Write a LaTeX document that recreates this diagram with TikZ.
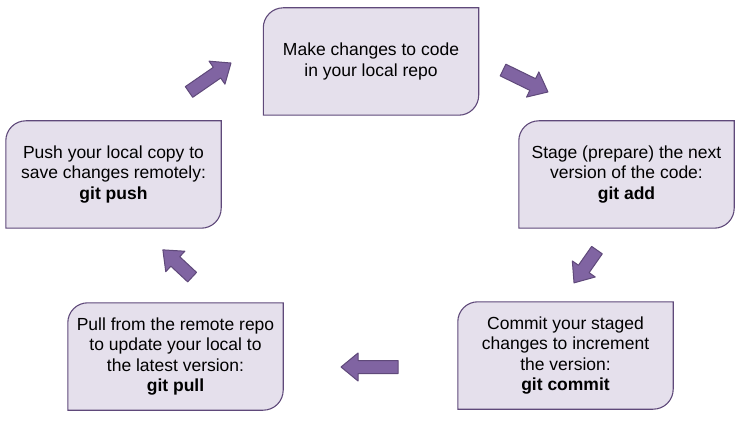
\documentclass[tikz,border=0pt]{standalone}
\usepackage{fontspec}
\setmainfont{Liberation Sans}
\usetikzlibrary{backgrounds}
\definecolor{boxfill}{HTML}{E5E0EC}
\definecolor{boxline}{HTML}{5F497A}
\definecolor{arrfill}{HTML}{8064A2}
\tikzset{
  x=1pt, y=1pt,
  gitnode/.style={minimum width=215pt, minimum height=107pt, inner sep=0pt,
    align=center, font=\fontsize{17.5}{20.5}\selectfont},
  boxshape/.style={fill=boxfill, draw=boxline, line width=1.1pt},
  arrowstyle/.style={fill=arrfill, draw=boxline, line width=1pt, line join=round},
  pics/barrow/.style={code={
    \draw[arrowstyle] ({-#1/2},-6.5) -- ({#1/2-17},-6.5) -- ({#1/2-17},-14) -- ({#1/2},0)
      -- ({#1/2-17},14) -- ({#1/2-17},6.5) -- ({-#1/2},6.5) -- cycle;}}
}
\newcommand\gitbox[4]{%
  \node[gitnode] (#1) at (#2,#3) {#4};
  \begin{pgfonlayer}{background}
    \draw[boxshape] (#1.south west) -- ([yshift=-20pt]#1.north west)
      arc[start angle=180, end angle=90, radius=20pt] -- (#1.north east)
      -- ([yshift=20pt]#1.south east)
      arc[start angle=0, end angle=-90, radius=20pt] -- cycle;
  \end{pgfonlayer}}
\begin{document}
\begin{tikzpicture}
\useasboundingbox (0,0) rectangle (750,429);
\gitbox{make}{371}{367.5}{Make changes to code\\in your local repo}
\gitbox{stage}{626.5}{254.5}{Stage (prepare) the next\\version of the code:\\\textbf{git add}}
\gitbox{commit}{565.5}{73.5}{Commit your staged\\changes to increment\\the version:\\\textbf{git commit}}
\gitbox{pull}{175.5}{72.5}{Pull from the remote repo\\to update your local to\\the latest version:\\\textbf{git pull}}
\gitbox{push}{113.5}{254.5}{Push your local copy to\\save changes remotely:\\\textbf{git push}}
\pic[rotate=-26] at (525.5,348) {barrow=50};
\pic[rotate=235] at (585.5,162.5) {barrow=40};
\pic[rotate=180] at (369.5,62) {barrow=57};
\pic[rotate=137] at (177.5,165.5) {barrow=40};
\pic[rotate=34.6] at (210,351.5) {barrow=51};
\end{tikzpicture}
\end{document}
